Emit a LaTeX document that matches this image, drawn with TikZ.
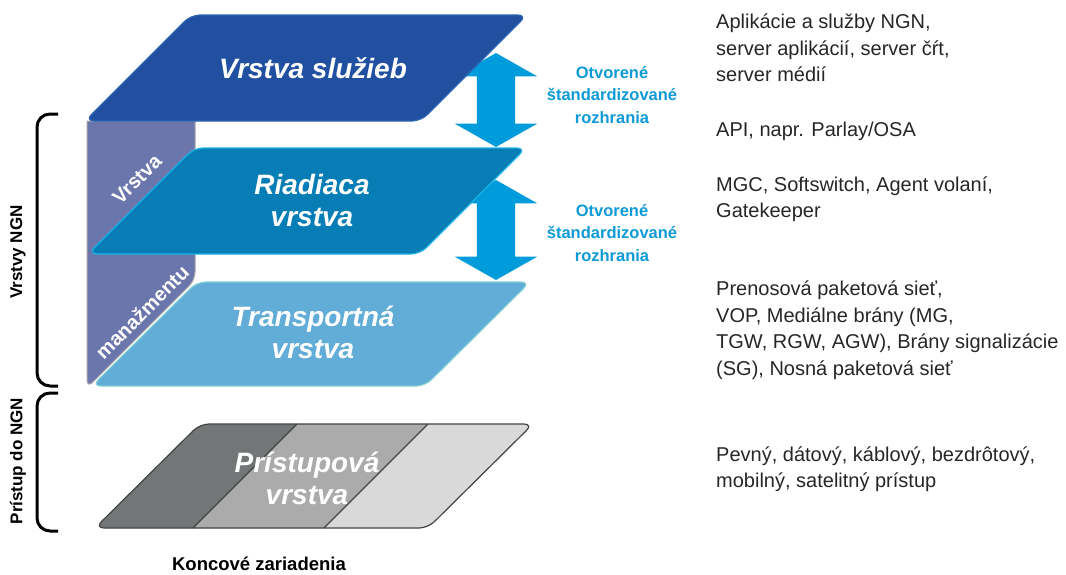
\documentclass[tikz,border=0pt]{standalone}
\usepackage{fontspec}
\setmainfont{Liberation Sans}
\usetikzlibrary{shapes.arrows}

\definecolor{svcblue}{HTML}{2150A0}
\definecolor{svcedge}{HTML}{2D64B4}
\definecolor{ctrlblue}{HTML}{077DB5}
\definecolor{ctrledge}{HTML}{1DB1E5}
\definecolor{trnblue}{HTML}{62ACD8}
\definecolor{trnedge}{HTML}{7ECFD2}
\definecolor{mgmtviolet}{HTML}{6B76AC}
\definecolor{arrowblue}{HTML}{009BDA}
\definecolor{ifblue}{HTML}{0E9AD7}
\definecolor{accdark}{HTML}{727677}
\definecolor{accmid}{HTML}{ABABAB}
\definecolor{acclight}{HTML}{D9D9D9}
\definecolor{accedge}{HTML}{444444}

\begin{document}
\begin{tikzpicture}[x=1pt,y=-1pt,
  layer/.style={rounded corners=9pt, line width=1.2pt},
  title/.style={text=white, font=\fontsize{28}{32}\selectfont\bfseries\itshape, align=center, inner sep=0pt},
  note/.style={font=\fontsize{20}{26.5}\selectfont, align=left, anchor=west, inner sep=0pt, text=black!85},
  iflabel/.style={text=ifblue, font=\fontsize{16.5}{22.5}\selectfont\bfseries, align=center, inner sep=0pt},
  ifarrow/.style={double arrow, fill=arrowblue, draw=none, rotate=90, inner xsep=0pt, inner ysep=19pt,
    double arrow head extend=22pt, double arrow tip angle=121},
  mgmt/.style={text=white, font=\fontsize{20}{22}\selectfont\bfseries, rotate=45, inner sep=0pt},
  side/.style={font=\fontsize{17}{20}\selectfont\bfseries, rotate=90, inner sep=0pt},
  bracket/.style={line width=3pt, rounded corners=13pt}
]
  \useasboundingbox (0,0) rectangle (1066,574);

  % management strip behind the layers
  \draw[fill=mgmtviolet, draw=gray!70, line width=1pt]
    (87,121) -- (195,121) -- (195,130) [rounded corners=8pt] -- (195,280) -- (87,388)
    -- (87,370) [sharp corners] -- cycle;
  \node[mgmt] (mgmtA) at (137,179) {Vrstva};
  \node[mgmt] (mgmtB) at (142,312) {manažmentu};

  % open interfaces
  \node[ifarrow, minimum height=94pt] (ifArrowA) at (496,100) {};
  \node[ifarrow, minimum height=100pt] (ifArrowB) at (496,230) {};

  % service layer
  \draw[layer, fill=svcblue, draw=svcedge] (85,121) -- (191,15) -- (527,15) -- (421,121) -- cycle;
  \node[title] (svcTitle) at (313,68) {Vrstva služieb};

  % control layer
  \draw[layer, fill=ctrlblue, draw=ctrledge] (88,254) -- (194,148) -- (526,148) -- (420,254) -- cycle;
  \node[title] (ctrlTitle) at (312,200) {Riadiaca\\vrstva};

  % transport layer
  \draw[layer, fill=trnblue, draw=trnedge] (92,386) -- (197,282) -- (530,282) -- (425,386) -- cycle;
  \node[title] (trnTitle) at (313,332) {Transportná\\vrstva};

  % access layer
  \begin{scope}
    \clip[rounded corners=9pt] (95,528) -- (200,424) -- (533,424) -- (428,528) -- cycle;
    \fill[acclight] (60,420) rectangle (540,540);
    \fill[accmid] (60,420) -- (432,420) -- (312,540) -- (60,540) -- cycle;
    \fill[accdark] (60,420) -- (301,420) -- (181,540) -- (60,540) -- cycle;
  \end{scope}
  \draw[layer, draw=accedge] (95,528) -- (200,424) -- (533,424) -- (428,528) -- cycle;
  \draw[accedge, line width=1.2pt] (297,424) -- (193,528);
  \draw[accedge, line width=1.2pt] (428,424) -- (324,528);
  \node[title] (accTitle) at (307,478) {Prístupová\\vrstva};

  \node[font=\fontsize{18.5}{20}\selectfont\bfseries, inner sep=0pt] (endDev) at (259,564) {Koncové zariadenia};

  % interface labels
  \node[iflabel] (ifTop) at (612,95) {Otvorené\\štandardizované\\rozhrania};
  \node[iflabel] (ifBot) at (612,233) {Otvorené\\štandardizované\\rozhrania};

  % brackets on the left
  \draw[bracket] (58,114) -- (37,114) -- (37,386) -- (58,386);
  \draw[bracket] (58,393) -- (37,393) -- (37,531) -- (58,531);
  \node[side] (ngnSide) at (18,252) {Vrstvy NGN};
  \node[side] (accSide) at (18,461) {Prístup do NGN};

  % notes on the right
  \node[note] (noteSvc) at (716,48) {Aplikácie a služby NGN,\\server aplikácií, server čŕt,\\server médií};
  \node[note] (noteApi) at (716,131) {API, napr. Parlay/OSA};
  \node[note] (noteCtrl) at (716,199) {MGC, Softswitch, Agent volaní,\\Gatekeeper};
  \node[note] (noteTrn) at (716,330) {Prenosová paketová sieť,\\VOP, Mediálne brány (MG,\\TGW, RGW, AGW), Brány signalizácie\\(SG), Nosná paketová sieť};
  \node[note] (noteAcc) at (716,469) {Pevný, dátový, káblový, bezdrôtový,\\mobilný, satelitný prístup};
\end{tikzpicture}
\end{document}
